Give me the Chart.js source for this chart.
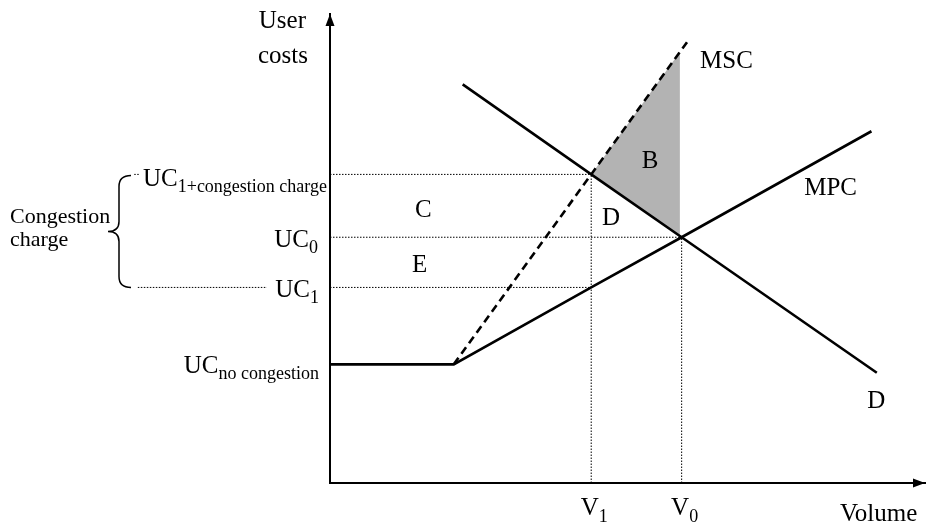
<!DOCTYPE html>
<html>
<head>
<meta charset="utf-8">
<title>Congestion charge</title>
<script src="https://cdn.jsdelivr.net/npm/chart.js@4.4.1/dist/chart.umd.min.js"></script>
<style>
  html, body { margin: 0; padding: 0; background: #fff; }
  #wrap { width: 930px; height: 523px; }
</style>
</head>
<body>
<div id="wrap"><canvas id="costChart" width="930" height="523"></canvas></div>
<script>
// Volume levels on the x axis (V1, V0)
const volumeLevels = [43.9, 59.1];
const volumeSubs = ['1', '0'];

// User cost levels on the y axis
const costLevels = [65.8, 52.4, 41.7, 25.3];
const costSubs = ['1+congestion charge', '0', '1', 'no congestion'];

// Demand curve D
const demandX = [22.3, 43.9, 59.1, 91.9];
const demandY = [85.0, 65.8, 52.4, 23.5];

// Marginal private cost MPC
const mpcX = [0, 20.8, 43.9, 59.1, 91.0];
const mpcY = [25.3, 25.3, 41.7, 52.4, 75.0];

// Marginal social cost MSC
const mscX = [20.8, 43.9, 60.0];
const mscY = [25.3, 65.8, 94.0];

// Welfare gain area B
const areaX = [43.9, 58.8, 58.8];
const areaY = [65.8, 91.9, 52.7];

const toPoints = (xs, ys) => xs.map((x, i) => ({ x: x, y: ys[i] }));

const [V1, V0] = volumeLevels;
const [UCcc, UC0, UC1] = costLevels;

const dotted = (pts, extra) => Object.assign({
  data: pts,
  showLine: true,
  borderColor: '#000',
  borderWidth: 1,
  borderDash: [1.5, 1.5],
  pointRadius: 0,
  fill: false,
  order: 5
}, extra || {});

const solid = (pts, extra) => Object.assign({
  data: pts,
  showLine: true,
  borderColor: '#000',
  borderWidth: 2.6,
  pointRadius: 0,
  fill: false,
  tension: 0,
  order: 1
}, extra || {});

const datasets = [
  solid(toPoints(demandX, demandY)),
  solid(toPoints(mpcX, mpcY)),
  solid(toPoints(mscX, mscY), { borderDash: [8, 5] }),
  {
    data: toPoints(areaX, areaY),
    showLine: true,
    borderWidth: 0,
    borderColor: 'rgba(0,0,0,0)',
    backgroundColor: '#b3b3b3',
    pointRadius: 0,
    fill: 'shape',
    order: 10
  },
  dotted([{ x: 0, y: UCcc }, { x: V1, y: UCcc }]),
  dotted([{ x: 0, y: UC0 }, { x: V0, y: UC0 }]),
  dotted([{ x: 0, y: UC1 }, { x: V1, y: UC1 }]),
  dotted([{ x: V1, y: 0 }, { x: V1, y: UCcc }]),
  dotted([{ x: V0, y: 0 }, { x: V0, y: UC0 }]),
  // guides left of the cost axis, next to the brace
  dotted([{ x: -32.3, y: UC1 }, { x: -10.6, y: UC1 }], { clip: false }),
  dotted([{ x: -32.9, y: UCcc }, { x: -32.0, y: UCcc }], { clip: false })
];

const MAIN = '25px "Liberation Serif", "Times New Roman", serif';
const SUB = '18px "Liberation Serif", "Times New Roman", serif';
const SMALL = '22px "Liberation Serif", "Times New Roman", serif';

function withSub(ctx, main, sub, x, y, align, subDy) {
  ctx.font = MAIN;
  const wm = ctx.measureText(main).width;
  ctx.font = SUB;
  const ws = ctx.measureText(sub).width;
  const total = wm + ws;
  let left = x;
  if (align === 'right') left = x - total;
  if (align === 'center') left = x - total / 2;
  ctx.textAlign = 'left';
  ctx.font = MAIN;
  ctx.fillText(main, left, y);
  ctx.font = SUB;
  ctx.fillText(sub, left + wm, y + subDy);
}

const labelPlugin = {
  id: 'labels',
  afterDraw(chart) {
    const ctx = chart.ctx;
    const xs = chart.scales.x, ys = chart.scales.y;
    const a = chart.chartArea;
    const px = v => xs.getPixelForValue(v);
    const py = v => ys.getPixelForValue(v);
    ctx.save();
    ctx.fillStyle = '#000';
    ctx.strokeStyle = '#000';
    ctx.textBaseline = 'alphabetic';

    // arrow heads
    ctx.beginPath();
    ctx.moveTo(a.left, a.top);
    ctx.lineTo(a.left - 4.5, a.top + 12);
    ctx.lineTo(a.left + 4.5, a.top + 12);
    ctx.closePath();
    ctx.fill();
    ctx.beginPath();
    ctx.moveTo(a.right, a.bottom);
    ctx.lineTo(a.right - 12, a.bottom - 4.5);
    ctx.lineTo(a.right - 12, a.bottom + 4.5);
    ctx.closePath();
    ctx.fill();

    // axis titles
    ctx.font = MAIN;
    ctx.textAlign = 'right';
    ctx.fillText('User', a.left - 24, 28);
    ctx.fillText('costs', a.left - 22, 63);
    ctx.textAlign = 'left';
    ctx.fillText('Volume', a.right - 85, 521);

    // curve names
    ctx.fillText('MSC', px(62.2), py(88.5));
    ctx.fillText('MPC', px(79.7), py(61.4));
    ctx.fillText('D', px(90.3), py(15.9));

    // area letters
    ctx.fillText('B', px(52.4), py(67.1));
    ctx.fillText('C', px(14.3), py(56.7));
    ctx.fillText('D', px(45.7), py(55.0));
    ctx.fillText('E', px(13.8), py(44.9));

    // volume tick labels
    volumeLevels.forEach((v, i) => {
      withSub(ctx, 'V', volumeSubs[i], px(v) + 3, 515, 'center', 7);
    });

    // cost tick labels
    const rightEnds = [327, 318, 319, 319];
    const drops = [12, 10, 10, 9];
    costLevels.forEach((v, i) => {
      withSub(ctx, 'UC', costSubs[i], rightEnds[i], py(v) + drops[i], 'right', 6);
    });

    // brace for the congestion charge
    const top = py(UCcc) + 1, bot = py(UC1), mid = (top + bot) / 2;
    ctx.lineWidth = 1.5;
    ctx.beginPath();
    ctx.moveTo(131, top);
    ctx.quadraticCurveTo(119, top, 119, top + 11);
    ctx.lineTo(119, mid - 10);
    ctx.quadraticCurveTo(119, mid, 108, mid);
    ctx.quadraticCurveTo(119, mid, 119, mid + 10);
    ctx.lineTo(119, bot - 11);
    ctx.quadraticCurveTo(119, bot, 131, bot);
    ctx.stroke();

    ctx.font = SMALL;
    ctx.textAlign = 'left';
    ctx.fillText('Congestion', 10, 223);
    ctx.fillText('charge', 10, 246);
    ctx.restore();
  }
};

const costCtx = document.getElementById('costChart').getContext('2d');
const costChart = new Chart(costCtx, {
  type: 'scatter',
  data: { datasets: datasets },
  options: {
    responsive: false,
    animation: false,
    layout: {
      padding: { left: 330, right: 5, top: 14, bottom: 40 }
    },
    plugins: {
      legend: { display: false },
      tooltip: { enabled: false }
    },
    scales: {
      x: {
        type: 'linear',
        min: 0,
        max: 100,
        grid: { display: false, drawTicks: false },
        ticks: { display: false },
        border: { display: true, color: '#000', width: 2 }
      },
      y: {
        type: 'linear',
        min: 0,
        max: 100,
        grid: { display: false, drawTicks: false },
        ticks: { display: false },
        border: { display: true, color: '#000', width: 2 }
      }
    }
  },
  plugins: [labelPlugin]
});
</script>
</body>
</html>
